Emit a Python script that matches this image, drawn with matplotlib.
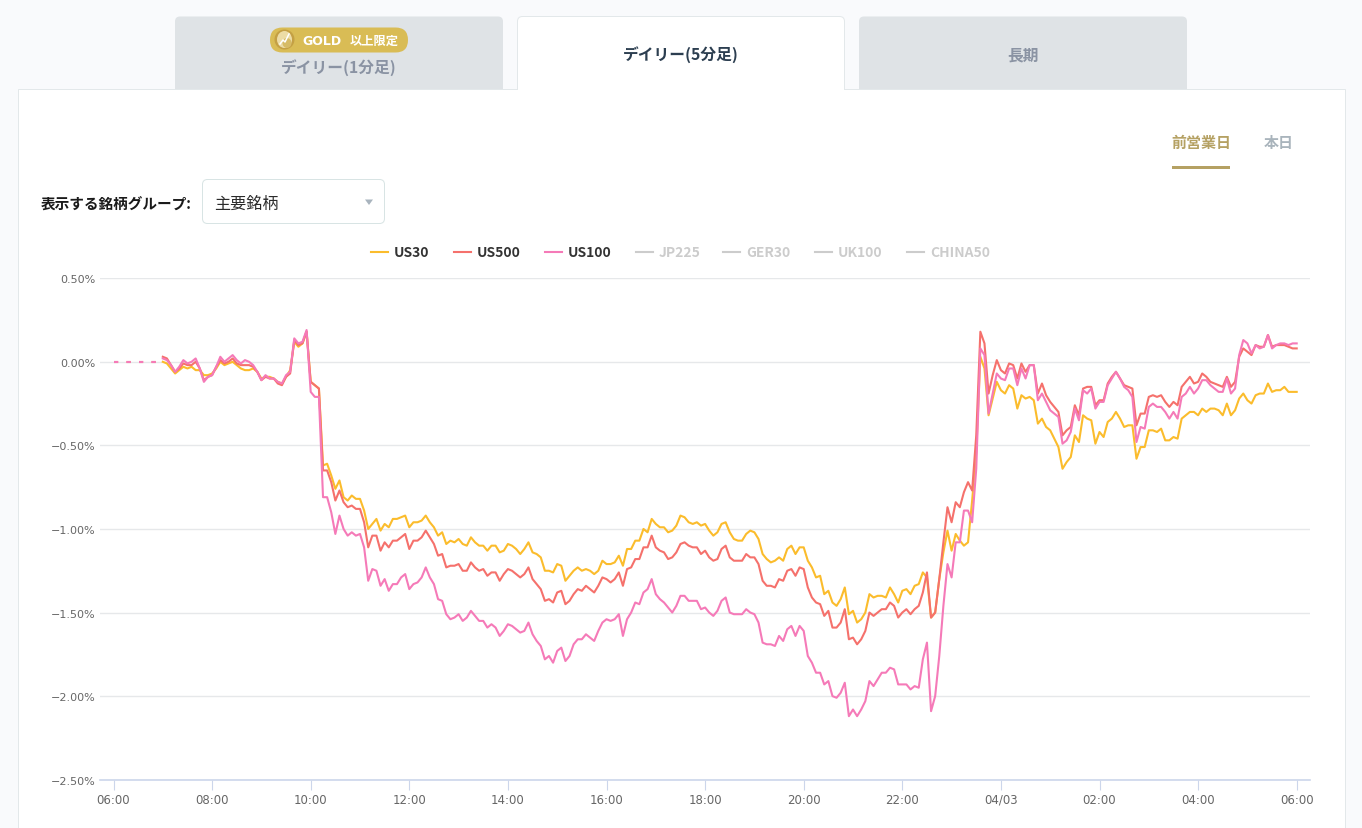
#!/usr/bin/env python3
import numpy as np
import matplotlib
matplotlib.use("Agg")
import matplotlib.pyplot as plt
from matplotlib.lines import Line2D
from matplotlib.patches import Circle, Ellipse, FancyBboxPatch, Polygon, Rectangle

plt.rcParams["font.family"] = ["Noto Sans CJK JP", "DejaVu Sans"]

# percent change, one value every 5 minutes starting 07:00
us30 = [
    0.00, -0.01, -0.04, -0.07, -0.05, -0.03, -0.04, -0.03, -0.05, -0.05,
    -0.08, -0.08, -0.07, -0.04, 0.00, -0.02, -0.01, 0.00, -0.02, -0.04,
    -0.05, -0.05, -0.04, -0.06, -0.10, -0.09, -0.09, -0.10, -0.12, -0.13,
    -0.09, -0.05, 0.12, 0.09, 0.11, 0.18, -0.12, -0.14, -0.16,
    -0.62, -0.61, -0.68, -0.76, -0.71, -0.81, -0.83, -0.80, -0.82, -0.82,
    -0.89, -1.00, -0.97, -0.94, -1.01, -0.97, -0.99, -0.94, -0.94, -0.93,
    -0.92, -0.99, -0.96, -0.96, -0.95, -0.92, -0.96, -0.99, -1.04, -1.02,
    -1.09, -1.07, -1.08, -1.06, -1.09, -1.10, -1.05, -1.08, -1.10, -1.10,
    -1.13, -1.10, -1.10, -1.14, -1.13, -1.09, -1.10, -1.12, -1.15, -1.12,
    -1.08, -1.14, -1.15, -1.17, -1.25, -1.25, -1.26, -1.21, -1.22, -1.31,
    -1.28, -1.25, -1.23, -1.25, -1.24, -1.25, -1.27, -1.25, -1.19, -1.21,
    -1.21, -1.20, -1.16,
    -1.22, -1.12, -1.12, -1.07, -1.07, -1.00, -1.02, -0.94, -0.97, -0.99,
    -0.99, -1.02, -1.01, -0.98, -0.92, -0.93, -0.96, -0.97, -0.96, -0.98,
    -0.97, -1.01, -1.04, -1.02, -0.97, -0.96, -1.02, -1.06, -1.07, -1.07,
    -1.03, -1.01, -1.02, -1.06, -1.15, -1.18, -1.20, -1.19, -1.17, -1.19,
    -1.12, -1.10, -1.15, -1.11, -1.11, -1.19, -1.23, -1.29, -1.28, -1.39,
    -1.37, -1.44, -1.46, -1.42, -1.35, -1.51, -1.49, -1.56, -1.54, -1.50,
    -1.39, -1.41, -1.40, -1.40, -1.41, -1.35, -1.39, -1.44, -1.37, -1.36,
    -1.39, -1.34, -1.33, -1.26, -1.29, -1.53, -1.50, -1.30, -1.14, -1.01,
    -1.13, -1.03, -1.07,
    -1.10, -1.08, -0.83, -0.54, 0.03, -0.04, -0.32, -0.22, -0.12, -0.17,
    -0.19, -0.14, -0.16, -0.28, -0.20, -0.22, -0.21, -0.23, -0.37, -0.34,
    -0.39, -0.41, -0.46, -0.51, -0.64, -0.60, -0.57, -0.44, -0.48, -0.32,
    -0.34, -0.35, -0.49, -0.42, -0.45, -0.36, -0.34, -0.30, -0.34, -0.39,
    -0.38, -0.38, -0.58, -0.51, -0.51, -0.41, -0.41, -0.42, -0.40, -0.47,
    -0.47, -0.45, -0.46, -0.34, -0.32, -0.30, -0.30, -0.32, -0.28, -0.30,
    -0.28, -0.28, -0.29, -0.32, -0.25, -0.32, -0.29, -0.22, -0.19, -0.23,
    -0.25, -0.20, -0.19, -0.19, -0.13, -0.18, -0.17, -0.17, -0.15, -0.18,
    -0.18, -0.18,
]
us500 = [
    0.03, 0.02, -0.02, -0.06, -0.04, -0.01, -0.02, -0.02, 0.00, -0.04,
    -0.11, -0.09, -0.08, -0.03, 0.01, -0.01, 0.00, 0.02, -0.01, -0.02,
    -0.02, -0.02, -0.03, -0.06, -0.11, -0.09, -0.10, -0.10, -0.13, -0.14,
    -0.09, -0.07, 0.13, 0.10, 0.11, 0.18, -0.12, -0.14, -0.16,
    -0.65, -0.65, -0.72, -0.83, -0.77, -0.84, -0.87, -0.86, -0.88, -0.88,
    -0.96, -1.11, -1.04, -1.04, -1.13, -1.08, -1.11, -1.07, -1.07, -1.05,
    -1.03, -1.12, -1.07, -1.07, -1.05, -1.01, -1.05, -1.09, -1.16, -1.15,
    -1.23, -1.22, -1.22, -1.21, -1.25, -1.25, -1.20, -1.23, -1.25, -1.24,
    -1.28, -1.26, -1.26, -1.31, -1.27, -1.24, -1.25, -1.27, -1.29, -1.27,
    -1.23, -1.30, -1.33, -1.36, -1.43, -1.42, -1.44, -1.38, -1.37, -1.45,
    -1.43, -1.39, -1.36, -1.37, -1.34, -1.36, -1.38, -1.34, -1.29, -1.30,
    -1.32, -1.30, -1.26,
    -1.34, -1.24, -1.23, -1.18, -1.18, -1.11, -1.11, -1.04, -1.11, -1.13,
    -1.14, -1.18, -1.17, -1.14, -1.09, -1.08, -1.10, -1.11, -1.11, -1.15,
    -1.13, -1.17, -1.19, -1.18, -1.12, -1.10, -1.17, -1.19, -1.19, -1.19,
    -1.15, -1.17, -1.17, -1.21, -1.31, -1.34, -1.34, -1.35, -1.30, -1.31,
    -1.25, -1.24, -1.28, -1.23, -1.24, -1.35, -1.41, -1.44, -1.45, -1.52,
    -1.49, -1.59, -1.59, -1.56, -1.48, -1.66, -1.65, -1.69, -1.66, -1.61,
    -1.50, -1.52, -1.50, -1.48, -1.48, -1.44, -1.46, -1.53, -1.50, -1.48,
    -1.51, -1.48, -1.46, -1.38, -1.26, -1.53, -1.50, -1.30, -1.08, -0.87,
    -0.96, -0.84, -0.87,
    -0.78, -0.72, -0.77, -0.44, 0.18, 0.11, -0.19, -0.08, 0.01, -0.05,
    -0.07, -0.01, -0.02, -0.10, -0.01, -0.06, -0.02, -0.02, -0.19, -0.13,
    -0.20, -0.24, -0.27, -0.30, -0.44, -0.41, -0.39, -0.26, -0.32, -0.16,
    -0.15, -0.15, -0.26, -0.23, -0.23, -0.13, -0.09, -0.06, -0.10, -0.14,
    -0.15, -0.16, -0.38, -0.31, -0.31, -0.21, -0.20, -0.21, -0.20, -0.24,
    -0.27, -0.24, -0.26, -0.15, -0.12, -0.09, -0.13, -0.12, -0.07, -0.09,
    -0.12, -0.13, -0.14, -0.15, -0.09, -0.15, -0.12, 0.03, 0.08, 0.06,
    0.04, 0.10, 0.09, 0.09, 0.16, 0.09, 0.10, 0.10, 0.10, 0.09,
    0.08, 0.08,
]
us100 = [
    0.02, 0.01, -0.02, -0.06, -0.03, 0.01, -0.01, 0.00, 0.02, -0.04,
    -0.12, -0.09, -0.08, -0.03, 0.03, 0.00, 0.02, 0.04, 0.01, -0.01,
    0.01, 0.00, -0.02, -0.06, -0.11, -0.08, -0.10, -0.10, -0.12, -0.13,
    -0.08, -0.06, 0.14, 0.11, 0.12, 0.19, -0.18, -0.21, -0.21,
    -0.81, -0.81, -0.90, -1.03, -0.92, -1.00, -1.04, -1.02, -1.04, -1.03,
    -1.11, -1.31, -1.24, -1.25, -1.34, -1.30, -1.37, -1.33, -1.33, -1.29,
    -1.27, -1.36, -1.33, -1.32, -1.29, -1.23, -1.29, -1.33, -1.42, -1.43,
    -1.51, -1.54, -1.53, -1.51, -1.55, -1.53, -1.49, -1.52, -1.55, -1.55,
    -1.59, -1.57, -1.59, -1.64, -1.61, -1.57, -1.58, -1.60, -1.62, -1.61,
    -1.56, -1.63, -1.67, -1.70, -1.78, -1.76, -1.80, -1.73, -1.71, -1.79,
    -1.76, -1.69, -1.66, -1.66, -1.63, -1.65, -1.67, -1.61, -1.56, -1.54,
    -1.55, -1.54, -1.51,
    -1.64, -1.54, -1.50, -1.44, -1.45, -1.38, -1.36, -1.30, -1.39, -1.42,
    -1.44, -1.47, -1.50, -1.46, -1.40, -1.40, -1.43, -1.43, -1.43, -1.48,
    -1.47, -1.50, -1.52, -1.49, -1.43, -1.41, -1.50, -1.51, -1.51, -1.51,
    -1.48, -1.50, -1.51, -1.56, -1.68, -1.69, -1.69, -1.70, -1.64, -1.67,
    -1.60, -1.58, -1.64, -1.58, -1.61, -1.76, -1.80, -1.86, -1.86, -1.93,
    -1.91, -2.00, -2.01, -1.98, -1.92, -2.12, -2.08, -2.12, -2.08, -2.03,
    -1.91, -1.94, -1.90, -1.86, -1.86, -1.83, -1.84, -1.93, -1.93, -1.93,
    -1.96, -1.94, -1.95, -1.78, -1.68, -2.09, -2.00, -1.76, -1.46, -1.21,
    -1.29, -1.08, -1.08,
    -0.89, -0.89, -0.96, -0.64, 0.08, 0.04, -0.31, -0.19, -0.07, -0.10,
    -0.11, -0.04, -0.04, -0.14, -0.04, -0.10, -0.02, -0.02, -0.23, -0.19,
    -0.24, -0.29, -0.31, -0.33, -0.49, -0.47, -0.42, -0.28, -0.35, -0.17,
    -0.19, -0.16, -0.28, -0.24, -0.24, -0.14, -0.10, -0.06, -0.10, -0.15,
    -0.17, -0.21, -0.48, -0.39, -0.40, -0.27, -0.25, -0.27, -0.27, -0.30,
    -0.34, -0.30, -0.34, -0.21, -0.19, -0.15, -0.19, -0.16, -0.11, -0.11,
    -0.14, -0.16, -0.18, -0.18, -0.10, -0.19, -0.16, 0.04, 0.13, 0.11,
    0.05, 0.10, 0.08, 0.09, 0.16, 0.08, 0.10, 0.11, 0.11, 0.10,
    0.11, 0.11,
]
# flat dotted stretch before the session opens
lead_in = [0.00] * 12

ytick_values = [0.5, 0.0, -0.5, -1.0, -1.5, -2.0, -2.5]
ytick_labels = ["0.50%", "0.00%", "−0.50%", "−1.00%", "−1.50%", "−2.00%", "−2.50%"]
xtick_hours = [0, 2, 4, 6, 8, 10, 12, 14, 16, 18, 20, 22, 24]
xtick_labels = ["06:00", "08:00", "10:00", "12:00", "14:00", "16:00", "18:00",
                "20:00", "22:00", "04/03", "02:00", "04:00", "06:00"]

active_names = ["US30", "US500", "US100"]
muted_names = ["JP225", "GER30", "UK100", "CHINA50"]

GOLD = "#fbbc2c"
RED = "#f5716c"
PINK = "#f57ab8"


def rounded(ax, x0, y0, x1, y1, r, **kw):
    ax.add_patch(FancyBboxPatch((x0, y0), x1 - x0, y1 - y0,
                                boxstyle=f"round,pad=0,rounding_size={r}", **kw))


def draw_page(ax):
    ax.set_xlim(0, 1362)
    ax.set_ylim(829, 0)
    ax.axis("off")

    # tabs
    rounded(ax, 175, 17.5, 503, 100, 5, fc="#dfe3e6", ec="none")
    rounded(ax, 859, 17.5, 1187, 100, 5, fc="#dfe3e6", ec="none")
    rounded(ax, 517.5, 17.5, 844.5, 100, 5, fc="white", ec="#e3e8ea", lw=0.72)

    # panel
    ax.add_patch(Rectangle((17.5, 89.5), 1327, 760, fc="white", ec="#e3e8ea", lw=0.72))
    ax.add_patch(Rectangle((518, 80), 326, 11, fc="white", ec="none"))

    # gold badge
    rounded(ax, 270, 28.5, 408, 53.5, 12.5, fc="#d9bc55", ec="none")
    ax.add_patch(Circle((284.5, 40.5), 10, fc="#c4a044", ec="none"))
    ax.add_patch(Ellipse((284.5, 40.5), 15, 17, fc="#ecdca6", ec="none"))
    ax.add_patch(Ellipse((287, 44), 9, 10, fc="#d6bb66", ec="none"))
    ax.plot([280, 283, 285, 289], [45, 41, 43, 35], color="white", lw=1.1)
    ax.text(302, 41.5, "GOLD", color="white", fontsize=9, fontweight="bold",
            family="DejaVu Sans", ha="left", va="center")
    ax.text(374.5, 41.5, "以上限定", color="white", fontsize=8.8, fontweight="bold",
            ha="center", va="center")

    ax.text(339, 68, "デイリー(1分足)", color="#8a93a3", fontsize=11.3, fontweight="bold",
            ha="center", va="center")
    ax.text(681, 55, "デイリー(5分足)", color="#2c3e50", fontsize=11.3, fontweight="bold",
            ha="center", va="center")
    ax.text(1023, 55, "長期", color="#8a93a3", fontsize=11.3, fontweight="bold",
            ha="center", va="center")

    # period switch
    ax.text(1201, 142.5, "前営業日", color="#b5a163", fontsize=10.8, fontweight="bold",
            ha="center", va="center")
    ax.add_patch(Rectangle((1172, 166.5), 58, 3, fc="#b5a163", ec="none"))
    ax.text(1278.5, 142.5, "本日", color="#a9b4bc", fontsize=10.8, fontweight="bold",
            ha="center", va="center")

    # group selector
    ax.text(41, 204.5, "表示する銘柄グループ:", color="#1a1a1a", fontsize=10.55, fontweight="bold",
            ha="left", va="center")
    rounded(ax, 202.5, 180.5, 384.5, 224.5, 5, fc="white", ec="#d8e4e4", lw=0.72)
    ax.text(214, 204, "主要銘柄", color="#2b2b2b", fontsize=11.6, ha="left", va="center")
    ax.add_patch(Polygon([(365, 200.5), (373, 200.5), (369, 206)], fc="#a9b4be", ec="none"))

    # legend
    legend_x = [371, 454, 545, 636, 723, 815, 907]
    colors = [GOLD, RED, PINK] + ["#cccccc"] * 4
    names = active_names + muted_names
    for x, c, name in zip(legend_x, colors, names):
        ax.add_line(Line2D([x, x + 17], [252.5, 252.5], color=c, lw=1.5))
        tc = "#333333" if name in active_names else "#cccccc"
        ax.text(x + 23, 253, name, color=tc, fontsize=10, fontweight="bold",
                ha="left", va="center")


def draw_chart(ax):
    minutes = 60 + 5 * np.arange(len(us30))
    hours = minutes / 60
    lead = np.arange(len(lead_in)) * 5 / 60

    for values, color in [(us30, GOLD), (us500, RED), (us100, PINK)]:
        ax.plot(hours, values, color=color, lw=1.5, solid_joinstyle="round", zorder=3)
    for values, color in [(lead_in, RED), (lead_in, PINK)]:
        ax.plot(lead, values, color=color, lw=1.5, ls=(0, (2, 4)), zorder=3)

    ax.set_xlim(-13.5 / 49.3, 24 + 13.3 / 49.3)
    ax.set_ylim(-2.5, 0.5)
    ax.set_yticks(ytick_values)
    ax.set_yticklabels(ytick_labels, fontsize=8, color="#666666", family="DejaVu Sans")
    ax.set_xticks(xtick_hours)
    ax.set_xticklabels(xtick_labels, fontsize=8.5, color="#666666", family="DejaVu Sans")
    ax.tick_params(axis="y", length=0, pad=3)
    ax.tick_params(axis="x", length=7.5, width=0.8, color="#ccd6eb", pad=2)
    ax.grid(axis="y", color="#e6e8ea", lw=1)
    ax.set_axisbelow(True)
    ax.patch.set_alpha(0)
    for side in ["top", "left", "right"]:
        ax.spines[side].set_visible(False)
    ax.spines["bottom"].set_color("#ccd6eb")
    ax.spines["bottom"].set_linewidth(1.2)


def main():
    w, h = 1362, 829
    fig = plt.figure(figsize=(w / 100, h / 100), dpi=100, facecolor="#f9fafc")
    page = fig.add_axes([0, 0, 1, 1])
    draw_page(page)

    left, right, top, bottom = 100, 1310, 279.2, 780.7
    chart = fig.add_axes([left / w, 1 - bottom / h, (right - left) / w, (bottom - top) / h])
    draw_chart(chart)

    fig.savefig("out.png", dpi=100, facecolor=fig.get_facecolor())
    plt.close(fig)


if __name__ == "__main__":
    main()
